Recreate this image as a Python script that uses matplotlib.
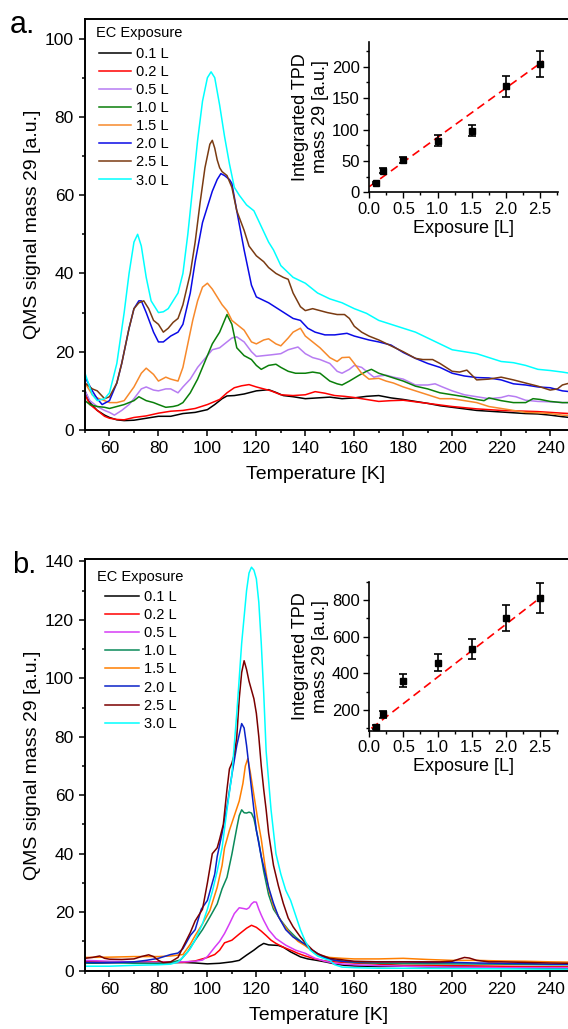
import numpy as np
import matplotlib
matplotlib.use('Agg')
import matplotlib.pyplot as plt
from matplotlib.ticker import MultipleLocator

plt.rcParams['font.family'] = ['Liberation Sans', 'DejaVu Sans']

# ---------------- data ----------------
labels = ['0.1 L', '0.2 L', '0.5 L', '1.0 L', '1.5 L', '2.0 L', '2.5 L', '3.0 L']
colors_a = ['#000000', '#ff0000', '#b77cf2', '#0a7f0a', '#f7892b', '#0a0ae6', '#7a3b12', '#00ffff']
colors_b = ['#000000', '#ff0000', '#d63cf5', '#0a8a5a', '#ff7f00', '#0a22c8', '#7a0000', '#00ffff']

# panel a: temperature [K] / QMS signal
ta_01 = [50, 52, 55, 58, 60, 63, 66, 70, 75, 80, 85, 90, 95, 100, 103, 106, 108, 111, 115, 120, 125, 128, 131, 135, 140, 145, 150, 155, 160, 165, 170, 175, 180, 185, 190, 195, 200, 205, 210, 215, 220, 225, 230, 235, 240, 245, 248]
sa_01 = [10, 7, 5, 3.8, 3.2, 2.6, 2.4, 2.5, 3, 3.5, 3.5, 4.2, 4.5, 5.2, 6.5, 8, 8.7, 8.8, 9.2, 10, 10.3, 9.6, 8.8, 8.5, 8, 8.2, 8.4, 8, 8.2, 8.6, 8.8, 8.2, 7.8, 7.3, 6.8, 6.2, 5.8, 5.4, 5, 4.8, 4.6, 4.4, 4.2, 4.1, 3.8, 3.4, 3.2]
ta_02 = [50, 52, 55, 58, 60, 63, 66, 70, 75, 80, 85, 90, 95, 100, 105, 108, 111, 114, 117, 120, 123, 126, 130, 135, 140, 144, 148, 152, 156, 160, 165, 170, 175, 180, 185, 190, 195, 200, 205, 210, 215, 220, 225, 230, 235, 240, 245, 248]
sa_02 = [9, 6.5, 5, 3.5, 3, 2.7, 2.6, 3.2, 3.6, 4.3, 4.8, 5, 5.5, 6.5, 7.8, 9.5, 10.8, 11.3, 11.6, 11, 10.5, 10, 9, 8.8, 9, 9.8, 9.4, 8.8, 8.6, 8.3, 7.8, 7.3, 7.5, 7.6, 7.2, 6.8, 6.4, 6, 5.7, 5.4, 5.2, 5, 4.9, 4.8, 4.7, 4.5, 4.3, 4.2]
ta_05 = [50, 52, 55, 58, 60, 62, 65, 68, 70, 73, 75, 78, 80, 83, 85, 88, 90, 93, 96, 100, 102, 105, 108, 110, 112, 115, 118, 120, 123, 126, 130, 133, 137, 140, 143, 146, 150, 153, 155, 158, 160, 163, 166, 168, 170, 173, 176, 180, 185, 190, 193, 196, 200, 205, 210, 215, 220, 223, 226, 230, 235, 240, 245, 248]
sa_05 = [10, 7.5, 6, 5, 4.5, 3.8, 5, 6.5, 8, 10.5, 11, 10.2, 10, 10.5, 10.5, 9.5, 11, 13, 16, 19, 20.5, 21, 22.5, 23.5, 23.8, 22.5, 20, 18.8, 19, 19.2, 19.5, 20.5, 21.2, 19.5, 18.5, 18, 17, 15, 14.5, 15.5, 16.5, 16, 14.5, 13.5, 13.8, 14, 13.5, 13, 11.5, 11.5, 11.8, 11, 10, 9, 8.5, 8, 8.3, 8.8, 8.5, 7.6, 7.3, 7.2, 7, 7]
ta_10 = [50, 52, 55, 58, 60, 63, 66, 70, 72, 75, 78, 80, 83, 86, 88, 90, 93, 96, 100, 102, 105, 107, 108, 110, 112, 115, 118, 120, 122, 125, 128, 130, 133, 136, 140, 143, 146, 150, 153, 155, 158, 162, 165, 167, 170, 175, 180, 185, 190, 195, 200, 205, 210, 213, 215, 220, 225, 230, 233, 236, 240, 245, 248]
sa_10 = [7.5, 6.5, 6, 5.8, 5.5, 6, 6.5, 7.5, 8.5, 7.5, 7, 6.5, 5.8, 6, 6.3, 7, 9.5, 13, 19, 22, 25, 28, 29.5, 27, 21, 19, 18, 16.5, 15.5, 16.5, 16.8, 16, 15, 14.5, 14.5, 14.8, 14.5, 12.5, 11.8, 11.5, 12.5, 14, 15, 15.5, 14.5, 13.5, 12.5, 11.2, 10.5, 9.5, 9, 8.5, 7.8, 7.5, 8.2, 7.5, 7, 7, 8, 7.8, 7.3, 7, 7]
ta_15 = [50, 53, 55, 58, 60, 63, 66, 70, 73, 75, 78, 80, 83, 85, 88, 90, 92, 94, 96, 98, 100, 102, 104, 106, 108, 110, 112, 115, 118, 120, 123, 125, 128, 130, 133, 135, 138, 140, 143, 146, 150, 153, 155, 158, 160, 163, 166, 170, 173, 176, 180, 185, 190, 195, 200, 205, 210, 215, 220, 225, 230, 235, 240, 245, 248]
sa_15 = [12, 9, 8.2, 7.5, 7, 7, 7.5, 11, 14.5, 15.8, 14.2, 12.5, 13.5, 13, 12.5, 16, 22, 28, 33, 36.5, 37.5, 36, 34, 32, 30.5, 28, 27, 25.5, 22.5, 22, 23, 23.3, 22, 21.5, 23.5, 25, 26, 24, 22.5, 21, 18.5, 17.5, 18.5, 18.6, 17, 14.5, 13, 13.2, 12.5, 12, 11, 10, 9, 8, 8, 7.5, 7, 6, 5.5, 5, 4.5, 4.4, 4.2, 3.8, 3.7]
ta_20 = [50, 53, 55, 57, 60, 63, 65, 68, 70, 72, 73, 75, 78, 80, 82, 85, 88, 90, 93, 95, 98, 100, 102, 104, 105.5, 107, 109, 110, 112, 115, 118, 120, 125, 130, 135, 138, 141, 144, 148, 152, 157, 160, 166, 170, 175, 180, 185, 190, 195, 200, 205, 210, 215, 220, 225, 230, 235, 240, 245, 248]
sa_20 = [13.5, 10, 8, 6.5, 7.5, 12, 17, 26, 31, 33, 33, 30, 25, 22.5, 22.5, 24, 25, 27, 35, 43, 53, 57, 61, 64, 65.5, 65, 64, 63, 56, 46, 37, 34, 32.5, 30.5, 28.5, 28, 26, 25, 24.3, 24.3, 24.7, 24, 23, 22.5, 21.7, 19.8, 18.3, 17, 16, 14.5, 13.8, 13.4, 13.3, 12.8, 11.8, 11.5, 11, 10.8, 10, 9.8]
ta_25 = [50, 53, 55, 58, 60, 63, 65, 68, 70, 72, 74, 76, 78, 80, 82, 84, 86, 88, 90, 93, 95, 97, 99, 101, 102, 103, 104, 105, 106, 108, 110, 112, 115, 117, 120, 123, 125, 128, 131, 133, 135, 138, 140, 143, 146, 149, 153, 156, 158, 160, 163, 166, 170, 175, 180, 185, 188, 192, 195, 200, 203, 206, 210, 215, 220, 225, 230, 235, 240, 243, 245, 248]
sa_25 = [12, 10.5, 10, 8, 8.5, 12, 17, 26, 31, 32.5, 33, 31, 28, 27, 25, 26, 27.5, 28.5, 32, 40, 48, 58, 67, 73, 74, 72, 69, 67, 66, 65, 62, 56, 51, 47, 44.5, 43, 41.5, 40, 39, 38.5, 35, 31.5, 30.5, 31, 30.5, 30, 29.5, 29.5, 28.5, 26.5, 25, 24, 23, 21.5, 20, 18.3, 18, 18, 17, 15, 14.8, 15.3, 12.8, 13, 13.5, 12.8, 12, 11.2, 10.2, 10.5, 11.5, 12]
ta_30 = [50, 53, 55, 58, 60, 63, 66, 68, 70, 71.5, 73, 75, 77, 80, 82, 84, 86, 88, 90, 92, 94, 96, 98, 100, 101.5, 103, 105, 107, 109, 111, 113, 116, 119, 122, 125, 127, 130, 135, 140, 145, 150, 155, 160, 165, 170, 175, 180, 185, 190, 195, 200, 205, 210, 215, 220, 225, 230, 235, 240, 245, 248]
sa_30 = [14.5, 9, 7.5, 8, 9.5, 17, 30, 40, 48, 50, 47, 39, 33, 30, 30.2, 31, 33, 35, 40, 50, 62, 74, 84, 90, 91.5, 90, 83, 75, 68, 62, 60, 57.5, 56, 52, 48, 46, 42, 39, 37.5, 35, 33.5, 32.5, 31, 29.8, 28, 27, 26, 25, 23.5, 22, 20.5, 20, 19.5, 18.5, 17.5, 17.2, 16.5, 15.5, 15.2, 14.8, 14.5]

# panel b: temperature [K] / QMS signal
tb_01 = [50, 60, 70, 80, 90, 95, 100, 105, 110, 113, 116, 119, 121, 123, 125, 127, 129, 131, 134, 138, 141, 144, 148, 152, 156, 160, 170, 180, 190, 200, 210, 220, 230, 240, 248]
sb_01 = [2.5, 2.7, 2.8, 2.6, 2.8, 2.6, 2.3, 2.5, 3, 3.5, 5.3, 7, 8.3, 9.3, 8.8, 8.7, 8.6, 8, 6.4, 4.7, 4, 3.6, 3, 2.3, 1.8, 1.6, 1.4, 1.5, 1.3, 1.3, 1.2, 1, 0.8, 0.7, 0.6]
tb_02 = [50, 60, 70, 80, 90, 95, 100, 103, 105, 107, 110, 113, 116, 118, 120, 122, 124, 126, 128, 131, 134, 137, 140, 144, 148, 152, 160, 170, 180, 190, 200, 210, 220, 230, 240, 248]
sb_02 = [3, 3, 3, 3, 2.8, 3.3, 4.5, 5.5, 7, 9.5, 10.4, 12.5, 14.5, 15.5, 14.8, 13.5, 12, 10.4, 9.3, 8, 7, 5.9, 5, 4, 3.3, 3, 2.6, 2.2, 1.8, 1.8, 1.7, 1.6, 1.5, 1.4, 1.3, 1.3]
tb_05 = [50, 60, 70, 80, 90, 95, 98, 100, 103, 105, 107, 109, 111, 113, 115, 116, 117, 118, 119, 120, 121, 122, 123, 125, 128, 132, 136, 140, 144, 148, 152, 156, 160, 170, 180, 200, 220, 240, 248]
sb_05 = [3.5, 3.2, 3, 2.8, 3, 3.2, 3.6, 4.8, 8, 10, 12.7, 16, 19.5, 21.5, 21.2, 21, 21.5, 22.8, 23.5, 23.4, 21, 19, 17.2, 14, 11, 8.7, 7, 5.9, 4.2, 3.2, 2.5, 2.2, 2, 1.7, 1.5, 1.2, 1, 1, 1]
tb_10 = [50, 60, 70, 80, 85, 89, 92, 95, 98, 101, 104, 106, 108, 110, 112, 113, 114, 115, 116, 117, 118, 119, 120, 121, 123, 125, 127, 130, 133, 136, 140, 144, 148, 152, 160, 170, 180, 200, 220, 240, 248]
sb_10 = [2.5, 2.8, 2.5, 2.5, 2.8, 3.6, 6.5, 10.4, 14, 18.3, 22.8, 28, 31.9, 39.8, 48.8, 53, 55, 54, 53.9, 54.2, 53.9, 52, 48, 44, 34, 26, 21, 17.2, 14, 11.5, 8.7, 5.9, 4.5, 3.5, 2.8, 2.5, 2.4, 2.3, 2.2, 2, 2]
tb_15 = [50, 60, 70, 80, 85, 90, 93, 95, 98, 101, 104, 106, 107, 109, 111, 113, 114.5, 115.5, 116.5, 117.5, 119, 120.5, 122, 123.5, 125, 127, 130, 134, 137, 140, 144, 147, 150, 155, 160, 170, 180, 190, 200, 210, 220, 230, 240, 248]
sb_15 = [4.5, 4.6, 4.8, 4.8, 5, 5.5, 9, 12, 16, 20.5, 28.5, 36, 42, 48, 53, 58, 64, 70, 72.5, 68, 60, 52, 45, 36, 28, 22, 17, 12.5, 10, 8.5, 6, 5, 4.5, 4.2, 4, 4, 4.2, 3.8, 3.5, 3.5, 3.3, 3.2, 3, 2.9]
tb_20 = [50, 60, 70, 75, 80, 85, 88, 90, 93, 95, 97.5, 100, 101, 103, 104, 106, 108, 110, 112, 114, 115, 116, 117.5, 119, 120, 122, 125, 127, 129, 132, 135, 138, 140, 142, 144, 147, 150, 155, 160, 170, 180, 190, 200, 210, 220, 230, 240, 248]
sb_20 = [2.8, 2.7, 3, 3.5, 4.2, 5.5, 6, 7.5, 12, 14, 21, 24, 27, 33, 39, 47, 56, 67, 77, 84.5, 83, 77, 66, 55, 48, 39, 28.5, 23, 18.5, 14, 11.5, 10, 9, 7.5, 6.4, 4.8, 3.8, 3.2, 3, 3, 3, 2.8, 2.8, 2.6, 2.5, 2.4, 2.2, 2.2]
tb_25 = [50, 53, 56, 58, 60, 65, 70, 73, 76, 78, 80, 82, 85, 88, 90, 93, 95, 98, 100, 102, 104, 105, 106.5, 108, 109, 110, 111, 112, 113, 114, 115, 116, 117, 118, 119, 120, 121, 122, 123, 124, 125, 127, 129, 131, 133, 135, 138, 140, 143, 145, 150, 155, 160, 170, 180, 190, 195, 200, 203, 205, 207, 210, 215, 220, 230, 240, 248]
sb_25 = [4.2, 4.5, 5, 4.2, 3.9, 3.8, 4, 4.8, 5.4, 4.8, 3.5, 2.7, 3, 4.5, 8, 13, 17, 21, 30, 40, 42, 45, 50, 62, 69, 71, 74, 80, 93, 102, 106, 103, 99, 96, 93, 88, 80, 70, 62, 55, 47, 36, 29, 23, 18, 15, 11.5, 9.5, 7, 5.8, 4.2, 3.7, 3.2, 3, 3, 3, 3, 3.2, 4, 4.5, 4.3, 3.5, 3, 3, 2.8, 2.6, 2.5]
tb_30 = [50, 60, 70, 80, 85, 88, 90, 93, 95, 98, 100, 102, 104, 106, 108, 110, 112, 114, 116, 117, 118, 119, 120, 121, 122, 123, 124, 126, 128, 130, 132, 134, 136, 138, 140, 142, 145, 148, 150, 152, 155, 160, 170, 180, 200, 220, 240, 248]
sb_30 = [1.5, 1.5, 1.8, 2, 2.2, 3, 4.5, 7.5, 10.5, 16, 21, 27, 34, 42, 55, 67, 88, 112, 130, 136, 138, 137, 134, 126, 112, 95, 75, 55, 40, 33, 27.5, 24, 19, 14, 10, 7, 5, 4, 3.5, 2, 1.2, 1, 0.8, 0.8, 0.7, 0.6, 0.5, 0.5]

# insets: integrated TPD vs exposure
exposure = [0.1, 0.2, 0.5, 1.0, 1.5, 2.0, 2.5]
int_a = [15, 34, 52, 82, 98, 169, 204]
err_a = [2, 4, 5, 9, 9, 17, 21]
int_b = [109, 176, 360, 458, 533, 703, 812]
err_b = [11, 18, 35, 46, 55, 70, 82]
fit_a = (78.5, 9.0)     # slope, intercept
fit_b = (288.0, 91.0)
fit_range_a = (0.0, 2.55)
fit_range_b = (0.03, 2.55)

curves_a = [(ta_01, sa_01), (ta_02, sa_02), (ta_05, sa_05), (ta_10, sa_10),
            (ta_15, sa_15), (ta_20, sa_20), (ta_25, sa_25), (ta_30, sa_30)]
curves_b = [(tb_01, sb_01), (tb_02, sb_02), (tb_05, sb_05), (tb_10, sb_10),
            (tb_15, sb_15), (tb_20, sb_20), (tb_25, sb_25), (tb_30, sb_30)]

W, H = 568, 1029
fig = plt.figure(figsize=(W / 100, H / 100), dpi=100)


def style_main(ax, ymax, ymajor):
    ax.set_xlim(50, 250)
    ax.set_ylim(0, ymax)
    ax.xaxis.set_major_locator(MultipleLocator(20))
    ax.xaxis.set_minor_locator(MultipleLocator(10))
    ax.yaxis.set_major_locator(MultipleLocator(ymajor))
    ax.yaxis.set_minor_locator(MultipleLocator(ymajor / 2))
    ax.tick_params(which='both', direction='out', width=1.1, labelsize=12.5, top=False, right=False)
    ax.tick_params(which='major', length=4, pad=4)
    ax.tick_params(which='minor', length=2.5)
    for s in ax.spines.values():
        s.set_linewidth(1.4)
    ax.set_ylabel('QMS signal mass 29 [a.u.]', fontsize=14, labelpad=3)
    ax.set_xlabel('Temperature [K]', fontsize=14)


def style_inset(ax, ylim, ymajor, yminor):
    ax.set_xlim(0, 2.77)
    ax.set_ylim(*ylim)
    ax.xaxis.set_major_locator(MultipleLocator(0.5))
    ax.xaxis.set_minor_locator(MultipleLocator(0.25))
    ax.yaxis.set_major_locator(MultipleLocator(ymajor))
    ax.yaxis.set_minor_locator(MultipleLocator(yminor))
    ax.spines['top'].set_visible(False)
    ax.spines['right'].set_visible(False)
    for s in ('left', 'bottom'):
        ax.spines[s].set_linewidth(1.2)
    ax.tick_params(which='both', direction='out', width=1.0, labelsize=12)
    ax.tick_params(which='major', length=4, pad=3)
    ax.tick_params(which='minor', length=2.5)
    ax.patch.set_alpha(0)
    ax.set_xlabel('Exposure [L]', fontsize=13, labelpad=2)
    ax.set_ylabel('Integrarted TPD\nmass 29 [a.u.]', fontsize=13, labelpad=2)


# ---------------- panel a ----------------
ax_a = fig.add_axes([85 / W, 1 - 430 / H, 489.6 / W, 411 / H])
for (t, s), c, lab in zip(curves_a, colors_a, labels):
    ax_a.plot(t, s, color=c, lw=1.1, label=lab)
style_main(ax_a, 105, 20)
ax_a.xaxis.set_label_coords(0.47, -0.088)
ax_a.text(0.022, 0.965, 'EC Exposure', transform=ax_a.transAxes, fontsize=10.5, va='center', ha='left')
ax_a.legend(loc='upper left', bbox_to_anchor=(0.029, 0.932), frameon=False, fontsize=10.5,
            handlelength=2.2, handletextpad=0.35, labelspacing=0.28, borderpad=0, borderaxespad=0)

ins_a = fig.add_axes([369.3 / W, 1 - 192.3 / H, 189 / W, 150.6 / H])
xf = np.linspace(*fit_range_a, 2)
ins_a.plot(xf, fit_a[0] * xf + fit_a[1], color='red', lw=1.2, dashes=(5, 3))
ins_a.errorbar(exposure, int_a, yerr=err_a, fmt='s', color='black', ms=4,
               capsize=3, elinewidth=1.2, capthick=1.2)
style_inset(ins_a, (0, 240), 50, 25)

# ---------------- panel b ----------------
ax_b = fig.add_axes([85 / W, 1 - 970.6 / H, 489.6 / W, 411.3 / H])
for (t, s), c, lab in zip(curves_b, colors_b, labels):
    ax_b.plot(t, s, color=c, lw=1.1, label=lab)
style_main(ax_b, 140.7, 20)
ax_b.xaxis.set_label_coords(0.478, -0.088)
ax_b.text(0.024, 0.958, 'EC Exposure', transform=ax_b.transAxes, fontsize=10.5, va='center', ha='left')
ax_b.legend(loc='upper left', bbox_to_anchor=(0.041, 0.925), frameon=False, fontsize=10.5,
            handlelength=2.3, handletextpad=0.35, labelspacing=0.28, borderpad=0, borderaxespad=0)

ins_b = fig.add_axes([369.3 / W, 1 - 730.7 / H, 189 / W, 149 / H])
xf = np.linspace(*fit_range_b, 2)
ins_b.plot(xf, fit_b[0] * xf + fit_b[1], color='red', lw=1.2, dashes=(5, 3))
ins_b.errorbar(exposure, int_b, yerr=err_b, fmt='s', color='black', ms=4,
               capsize=3, elinewidth=1.2, capthick=1.2)
style_inset(ins_b, (87, 900), 200, 100)

fig.text(10 / W, 1 - 33 / H, 'a.', fontsize=22, va='baseline', ha='left')
fig.text(12 / W, 1 - 573 / H, 'b.', fontsize=21, va='baseline', ha='left')

fig.savefig('out.png', dpi=100)
